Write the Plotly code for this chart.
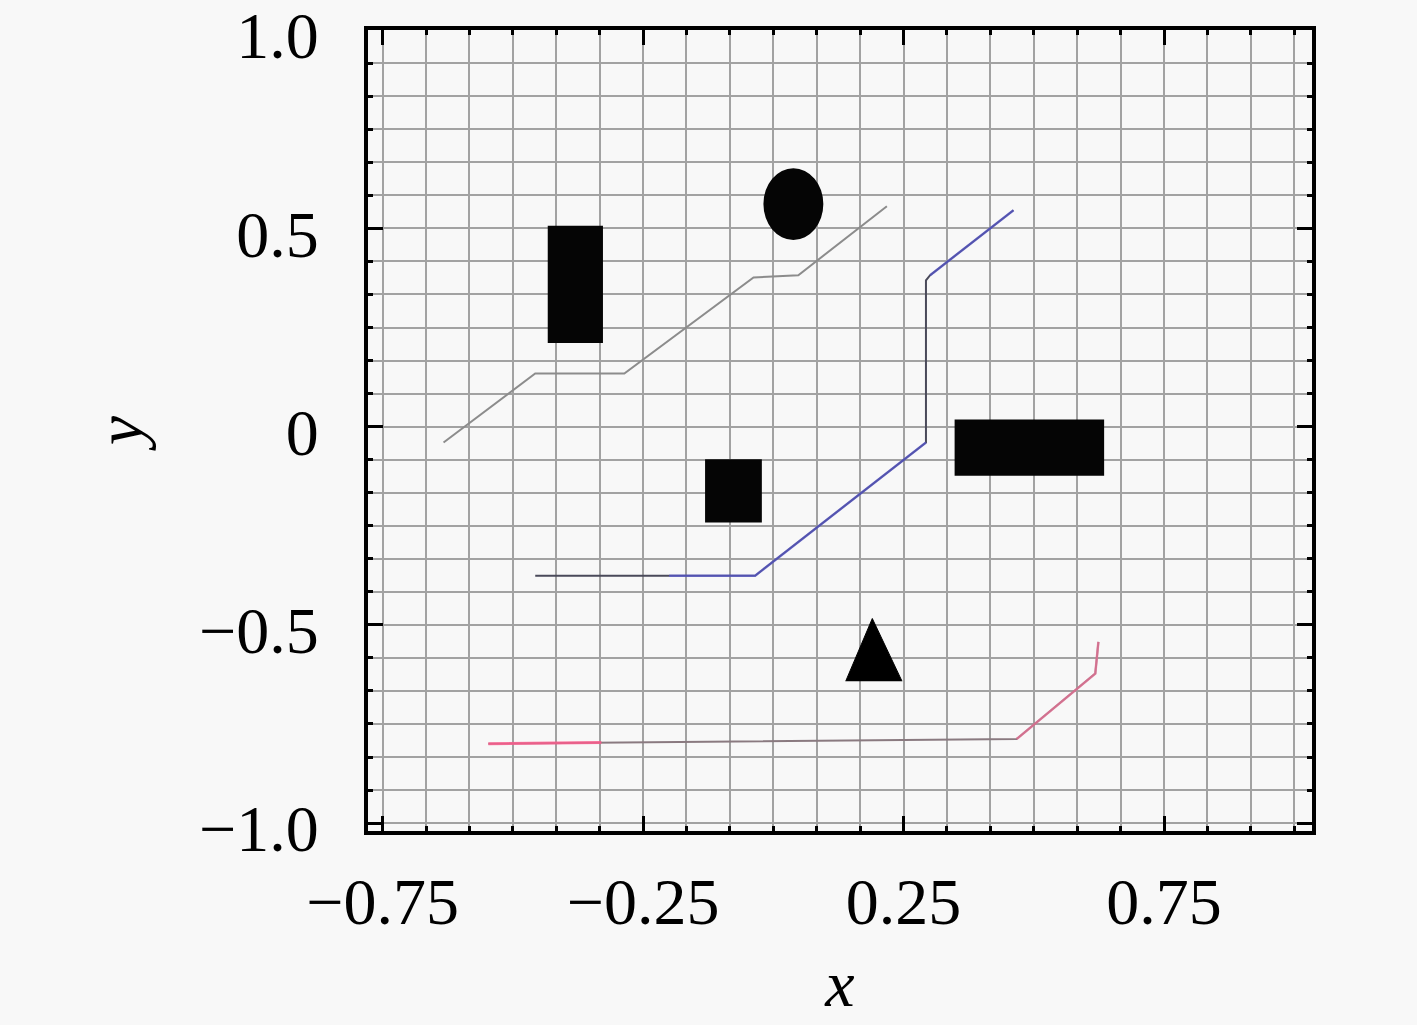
import plotly.graph_objects as go

# Drahy (lomene cary)
path1_x = [-0.633, -0.457, -0.286, -0.038, 0.048, 0.218]
path1_y = [-0.040, 0.134, 0.134, 0.376, 0.382, 0.556]
path2_x = [-0.457, -0.035, 0.293, 0.293, 0.301, 0.461]
path2_y = [-0.376, -0.376, -0.040, 0.369, 0.382, 0.546]
path3_x = [-0.547, 0.467, 0.618, 0.624]
path3_y = [-0.800, -0.788, -0.623, -0.543]

# Barevne useky pres cary
path2_hi_x = [-0.200, -0.035, 0.293]
path2_hi_y = [-0.376, -0.376, -0.040]
path2_top_x = [0.301, 0.461]
path2_top_y = [0.382, 0.546]
path3_hi_x = [-0.547, -0.330]
path3_hi_y = [-0.800, -0.797]
path3_end_x = [0.467, 0.618, 0.624]
path3_end_y = [-0.788, -0.623, -0.543]

# Prekazky (obdelniky, elipsa, trojuhelnik)
rect_x0 = [-0.433, -0.131, 0.348]
rect_x1 = [-0.327, -0.022, 0.635]
rect_y0 = [0.211, -0.242, -0.124]
rect_y1 = [0.507, -0.082, 0.018]
ellipse_x = [-0.019, 0.096]
ellipse_y = [0.471, 0.652]
tri_x = [0.139, 0.190, 0.247]
tri_y = [-0.642, -0.484, -0.642]

# Popisky os
x_ticks = [-0.75, -0.25, 0.25, 0.75]
x_labels = ['−0.75', '−0.25', '0.25', '0.75']
y_ticks = [-1.0, -0.5, 0.0, 0.5, 1.0]
y_labels = ['−1.0', '−0.5', '0', '0.5', '1.0']

fig = go.Figure()

fig.add_trace(go.Scatter(x=path1_x, y=path1_y, mode='lines',
                         line=dict(color='#8c8c8c', width=2)))
fig.add_trace(go.Scatter(x=path2_x, y=path2_y, mode='lines',
                         line=dict(color='#4a4a5a', width=2)))
fig.add_trace(go.Scatter(x=path2_hi_x, y=path2_hi_y, mode='lines',
                         line=dict(color='rgba(90,90,230,0.6)', width=2.5)))
fig.add_trace(go.Scatter(x=path2_top_x, y=path2_top_y, mode='lines',
                         line=dict(color='rgba(90,90,230,0.6)', width=2.5)))
fig.add_trace(go.Scatter(x=path3_x, y=path3_y, mode='lines',
                         line=dict(color='#8a7a80', width=2)))
fig.add_trace(go.Scatter(x=path3_hi_x, y=path3_hi_y, mode='lines',
                         line=dict(color='rgba(255,90,140,0.8)', width=3)))
fig.add_trace(go.Scatter(x=path3_end_x, y=path3_end_y, mode='lines',
                         line=dict(color='rgba(240,110,150,0.7)', width=2.5)))

# Trojuhelnik
fig.add_trace(go.Scatter(x=tri_x, y=tri_y, mode='lines', fill='toself',
                         fillcolor='black', line=dict(color='black', width=1)))

for x0, x1, y0, y1 in zip(rect_x0, rect_x1, rect_y0, rect_y1):
    fig.add_shape(type='rect', x0=x0, x1=x1, y0=y0, y1=y1,
                  fillcolor='#050505', line=dict(width=0), layer='above')
fig.add_shape(type='circle', x0=ellipse_x[0], x1=ellipse_x[1],
              y0=ellipse_y[0], y1=ellipse_y[1],
              fillcolor='#050505', line=dict(width=0), layer='above')

font_serif = dict(family='Liberation Serif', size=66, color='black')
grid_col = '#a2a2a2'

axis_style = dict(
    showline=True, linecolor='black', linewidth=4, mirror='ticks',
    ticks='inside', ticklen=15, tickwidth=3, tickcolor='black',
    showgrid=True, gridcolor=grid_col, gridwidth=1.8, zeroline=False,
    tickfont=font_serif, ticklabeloverflow='allow', automargin=False,
)

fig.update_xaxes(axis_style, range=[-0.778, 1.034],
                 tickvals=x_ticks, ticktext=x_labels, ticklabelstandoff=10,
                 minor=dict(tick0=-0.75, dtick=0.5 / 6, showgrid=True,
                            gridcolor=grid_col, gridwidth=1.8,
                            ticks='inside', ticklen=5, tickcolor='black'),
                 title=dict(text='<i>x</i>', standoff=24, font=font_serif))
fig.update_yaxes(axis_style, range=[-1.02, 1.0005],
                 tickvals=y_ticks, ticktext=y_labels, ticklabelstandoff=32,
                 ticklabelshift=5,
                 minor=dict(tick0=0, dtick=0.5 / 6, showgrid=True,
                            gridcolor=grid_col, gridwidth=1.8,
                            ticks='inside', ticklen=5, tickcolor='black'),
                 title=dict(text='<i>y</i>', standoff=36, font=font_serif))

fig.update_layout(width=1417, height=1025, showlegend=False,
                  paper_bgcolor='#f8f8f8', plot_bgcolor='#f8f8f8',
                  margin=dict(l=368, r=105, t=30, b=194))

# okraj stranky pryc, aby graf zacinal v rohu okna
page_js = "document.body.style.margin='0';document.body.style.background='#f8f8f8';"
fig.write_html("out.html", post_script=page_js, config={'displayModeBar': False})
